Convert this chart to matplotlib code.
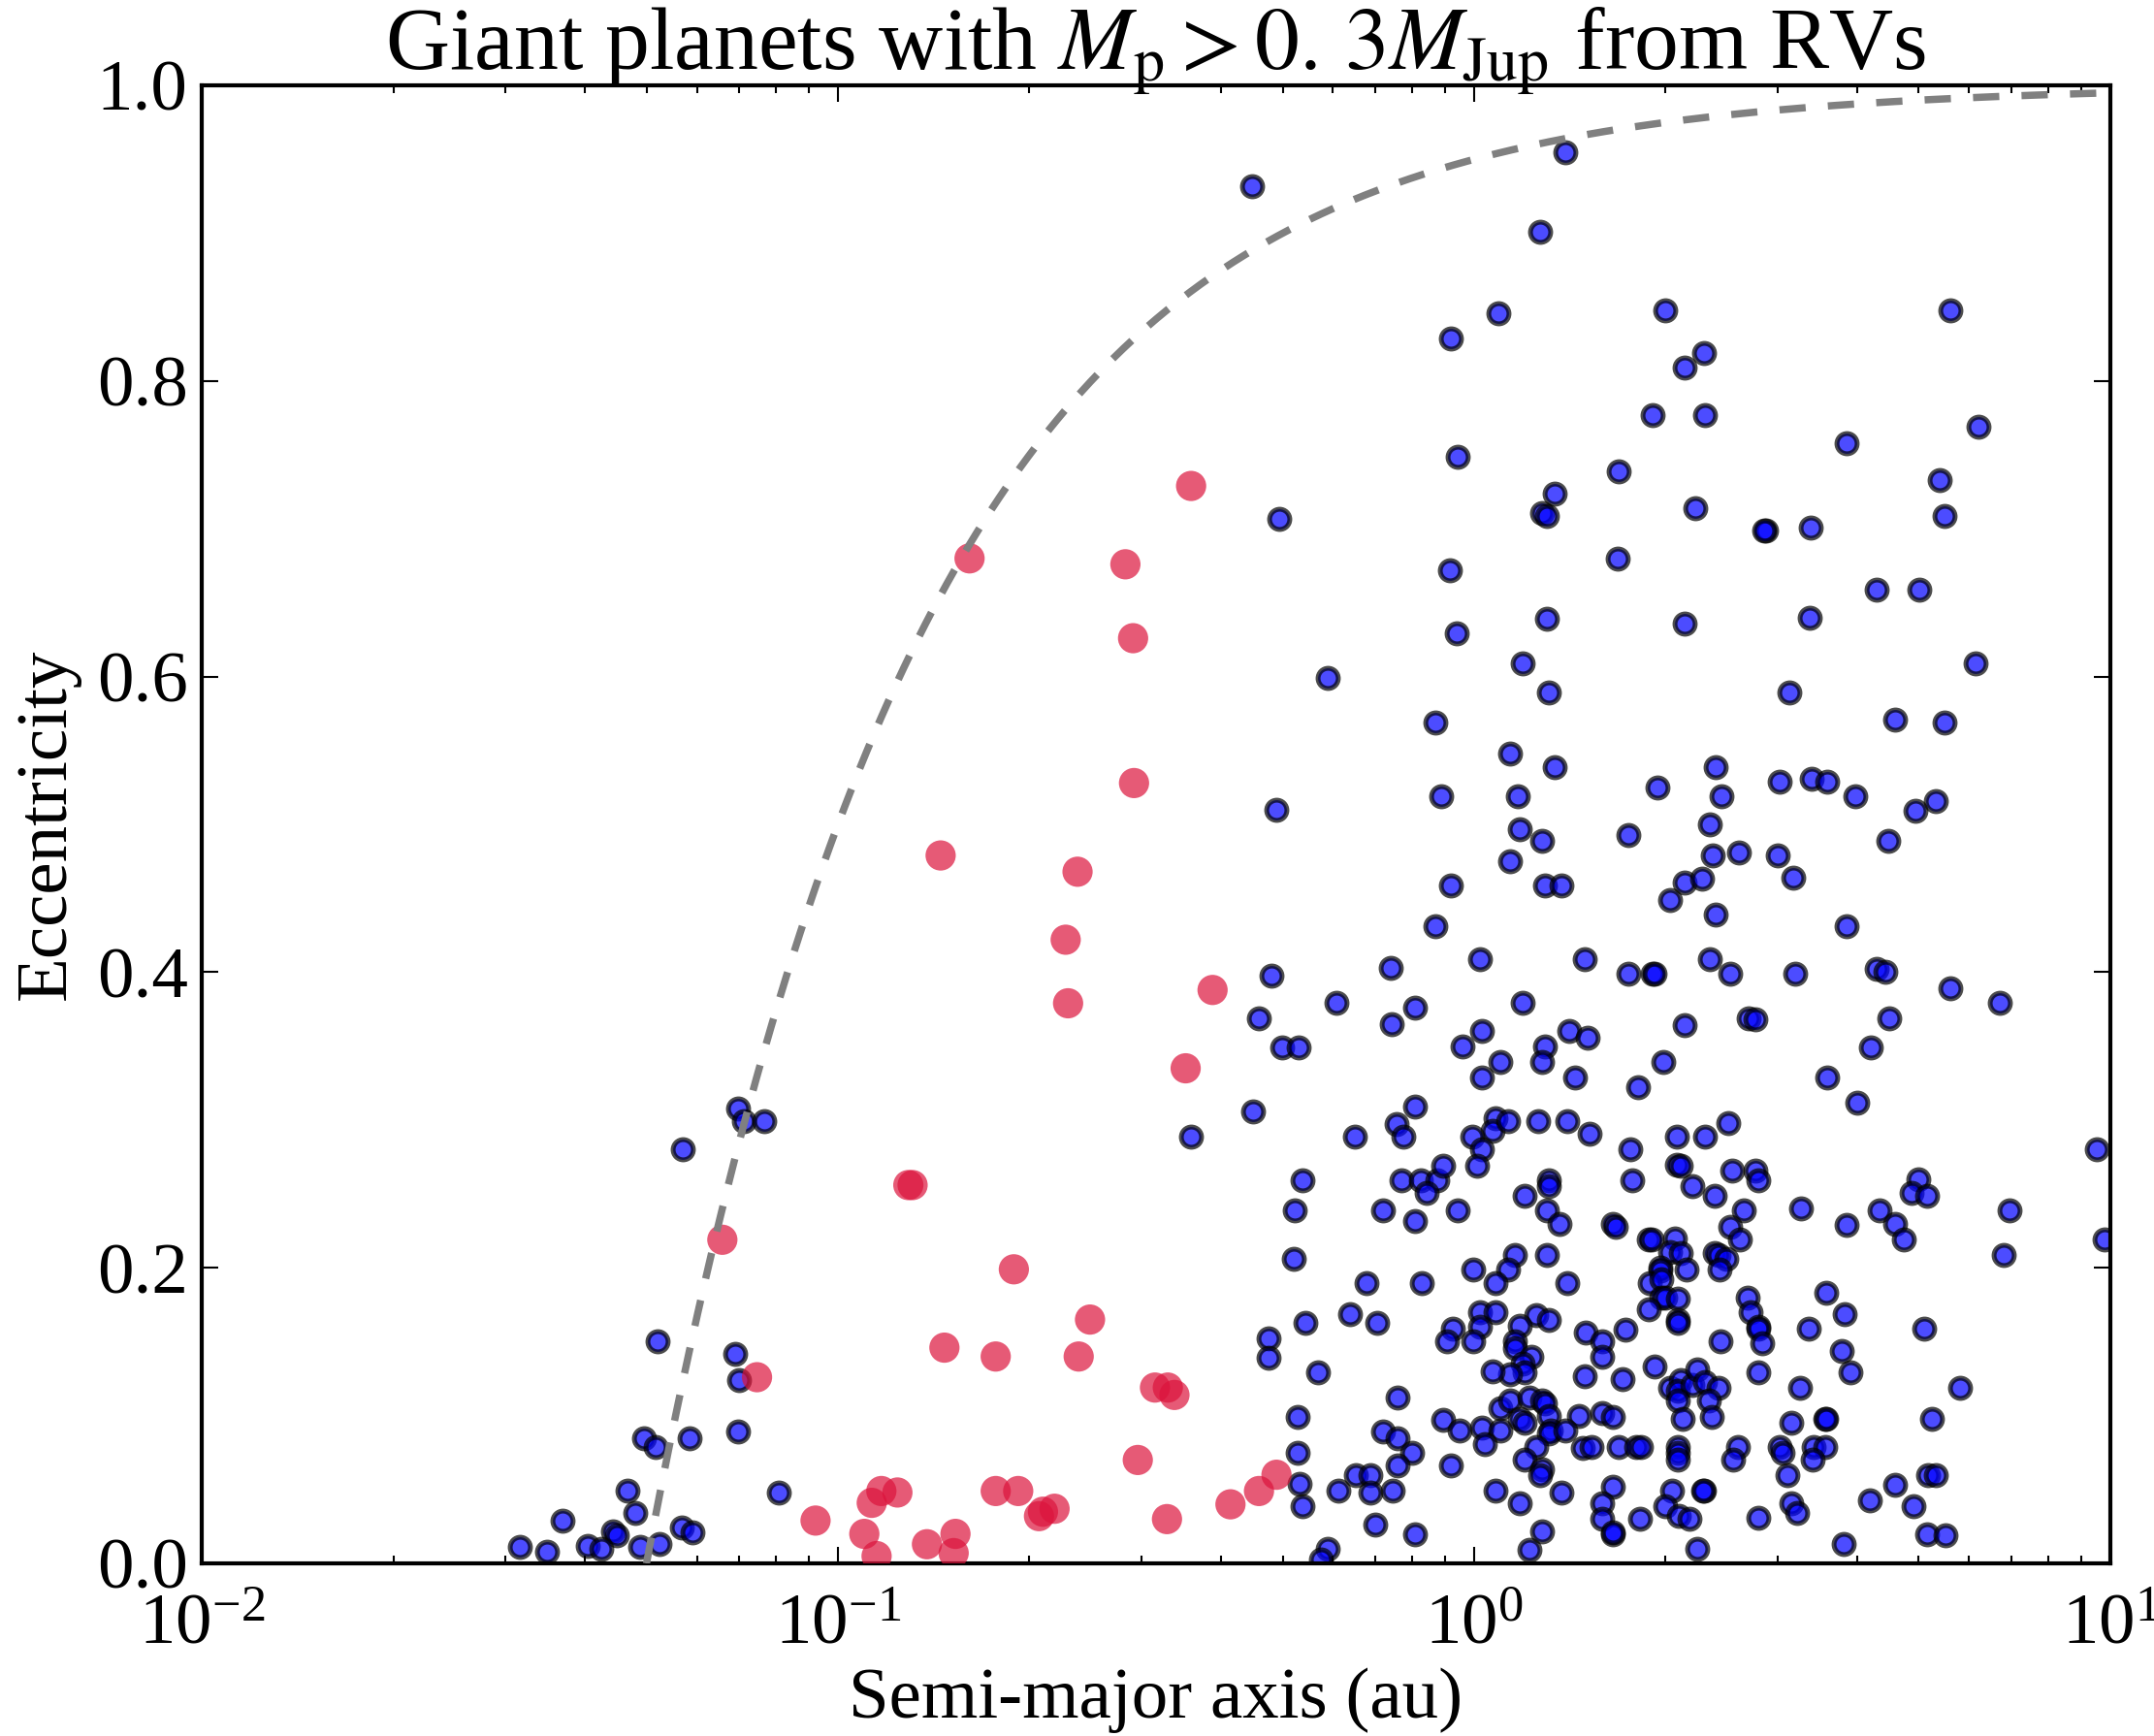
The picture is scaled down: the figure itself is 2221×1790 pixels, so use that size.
import numpy as np
import matplotlib
matplotlib.use("Agg")
import matplotlib.pyplot as plt

# values: semi-major axis (au) and eccentricity
# blue = planets beyond the tidal limit, red = warm/eccentric ones
blue_a = [0.0570, 0.0697, 0.0712, 0.0766, 0.0521, 0.0689, 0.0700, 0.0496, 0.0517, 0.0585,
          0.0697, 0.0467, 0.0808, 0.0480, 0.0369, 0.0443, 0.0449, 0.0568, 0.0591, 0.0316,
          0.0349, 0.0404, 0.0425, 0.0489, 0.0524,
          0.489, 0.888, 0.920, 0.869, 0.740, 0.480, 0.608, 0.808, 0.742, 0.459,
          0.499, 0.530, 0.449, 0.808, 0.359, 0.650, 0.755, 0.774, 0.537, 0.522,
          0.719, 0.808, 0.769, 0.825, 0.875, 0.894, 0.842, 0.521, 0.678, 0.828,
          0.638, 0.543, 0.704, 0.926, 0.907, 0.475, 0.475, 0.568, 0.758, 0.528,
          0.894, 0.719, 0.758, 0.799, 0.528, 0.758, 0.920, 0.652, 0.687, 0.532,
          0.612, 0.687, 0.745, 0.537, 0.700, 0.808, 0.589, 0.574,
          1.08, 1.07, 1.13, 1.26, 1.40, 1.52, 0.993, 1.03, 1.01, 1.76,
          2.08, 2.31, 2.51, 2.08, 2.11, 2.54, 2.77, 2.80, 2.20, 2.39,
          1.77, 1.31, 1.31, 1.20, 0.942, 1.30, 1.36, 1.65, 1.67, 2.65,
          2.53, 2.62, 1.88, 1.90, 2.07, 2.03, 2.11, 2.39, 2.42, 2.49,
          2.43, 1.96, 1.96, 2.16, 1.89, 1.97, 1.16, 1.30, 0.998, 1.13,
          1.08, 1.40, 1.97, 2.00, 2.09, 1.88, 2.09, 2.09, 2.69, 2.72,
          2.80, 2.80, 2.84, 1.02, 1.08, 1.25, 1.31, 1.18, 1.02, 0.998,
          1.16, 1.16, 1.23, 1.19, 1.20, 1.14, 1.07, 1.50, 1.59, 1.59,
          1.73, 2.44, 1.92, 1.49, 1.71, 2.03, 2.11, 2.09, 2.20, 2.24,
          2.31, 2.42, 2.09, 2.34, 2.13, 2.36, 2.80, 1.10, 1.14, 1.22,
          1.28, 1.29, 1.18, 1.20, 1.31, 1.46, 1.59, 1.65, 0.949, 1.03,
          1.10, 1.32, 1.31, 1.39, 1.04, 1.25, 1.48, 1.53, 1.69, 1.80,
          1.83, 2.09, 2.09, 2.09, 2.60, 2.55, 3.02, 3.05, 3.11, 1.20,
          1.28, 1.27, 1.08, 1.18, 1.37, 1.65, 1.59, 1.59, 1.65, 1.65,
          1.82, 2.05, 2.00, 2.10, 2.18, 2.30, 2.29, 2.80, 3.15, 3.22,
          1.28, 1.22, 2.24, 3.15,
          9.52, 4.99, 4.87, 5.15, 3.26, 3.85, 4.34, 4.59, 4.74, 6.94,
          6.80, 9.79, 3.58, 3.82, 3.36, 5.10, 3.78, 3.90, 3.25, 5.81,
          3.56, 3.58, 5.24, 3.42, 3.56, 3.40, 5.17, 5.32, 4.59, 4.19,
          4.90, 5.15, 5.51, 3.81,
          1.14, 1.34, 1.17, 1.18, 1.28, 1.14, 1.29, 1.37, 1.94, 1.75,
          2.40, 2.45, 2.35, 2.37, 2.61, 3.00, 3.02, 2.14, 2.28, 2.03,
          3.17, 2.40, 1.02, 1.49, 1.75, 1.91, 1.92, 2.35, 2.53, 3.20,
          1.19, 2.14, 2.70, 2.77, 1.03, 0.959, 1.41, 1.51, 1.29, 1.28,
          1.10, 1.03, 1.44, 1.98, 1.81,
          3.39, 3.59, 3.97, 5.32, 4.94, 4.48, 3.85, 4.29, 4.43, 5.61,
          6.70, 4.49, 4.20, 3.59, 4.00,
          1.39, 0.448, 1.27, 1.09, 2.00, 5.61, 0.920, 2.30, 2.14, 1.91,
          2.31, 6.21, 3.85, 0.942, 1.69, 1.34, 1.28, 1.30, 2.23, 2.88,
          2.86, 3.38, 5.39, 5.49, 0.494, 0.916, 1.68, 4.30, 5.01, 1.30,
          2.14, 3.37, 0.939, 1.19, 0.589, 6.14, 1.31, 3.13, 0.869, 4.59,
          5.49]
blue_e = [0.280, 0.308, 0.299, 0.299, 0.150, 0.142, 0.124, 0.085, 0.079, 0.085,
          0.089, 0.049, 0.048, 0.034, 0.029, 0.022, 0.019, 0.024, 0.021, 0.011,
          0.008, 0.012, 0.010, 0.011, 0.013,
          0.510, 0.519, 0.459, 0.431, 0.403, 0.398, 0.379, 0.376, 0.365, 0.369,
          0.349, 0.349, 0.306, 0.309, 0.289, 0.289, 0.297, 0.289, 0.259, 0.239,
          0.239, 0.232, 0.259, 0.259, 0.259, 0.269, 0.251, 0.206, 0.190, 0.190,
          0.169, 0.163, 0.163, 0.159, 0.150, 0.152, 0.139, 0.129, 0.112, 0.099,
          0.097, 0.089, 0.085, 0.075, 0.075, 0.066, 0.066, 0.060, 0.060, 0.054,
          0.049, 0.048, 0.049, 0.039, 0.026, 0.020, 0.010, 0.003,
          0.301, 0.293, 0.299, 0.299, 0.299, 0.291, 0.289, 0.280, 0.269, 0.280,
          0.289, 0.289, 0.298, 0.270, 0.269, 0.266, 0.266, 0.259, 0.255, 0.249,
          0.259, 0.259, 0.255, 0.249, 0.239, 0.239, 0.230, 0.230, 0.228, 0.239,
          0.228, 0.219, 0.219, 0.219, 0.220, 0.211, 0.210, 0.210, 0.209, 0.206,
          0.199, 0.200, 0.198, 0.199, 0.190, 0.192, 0.209, 0.209, 0.199, 0.199,
          0.190, 0.190, 0.180, 0.180, 0.179, 0.172, 0.165, 0.163, 0.180, 0.170,
          0.160, 0.159, 0.149, 0.170, 0.170, 0.168, 0.165, 0.161, 0.160, 0.150,
          0.150, 0.146, 0.140, 0.135, 0.129, 0.128, 0.130, 0.156, 0.150, 0.140,
          0.158, 0.150, 0.133, 0.127, 0.125, 0.119, 0.124, 0.117, 0.121, 0.131,
          0.123, 0.119, 0.110, 0.110, 0.098, 0.099, 0.129, 0.105, 0.110, 0.112,
          0.110, 0.108, 0.098, 0.095, 0.100, 0.100, 0.102, 0.099, 0.090, 0.092,
          0.090, 0.090, 0.088, 0.090, 0.081, 0.079, 0.078, 0.079, 0.079, 0.079,
          0.079, 0.079, 0.075, 0.070, 0.079, 0.070, 0.079, 0.075, 0.060, 0.070,
          0.064, 0.060, 0.049, 0.041, 0.048, 0.052, 0.041, 0.030, 0.020, 0.021,
          0.030, 0.049, 0.039, 0.032, 0.030, 0.049, 0.049, 0.031, 0.041, 0.034,
          0.022, 0.009, 0.010, 0.095,
          0.280, 0.260, 0.251, 0.249, 0.240, 0.229, 0.239, 0.230, 0.219, 0.239,
          0.209, 0.219, 0.183, 0.169, 0.159, 0.159, 0.144, 0.129, 0.119, 0.119,
          0.098, 0.098, 0.098, 0.079, 0.079, 0.070, 0.060, 0.060, 0.053, 0.043,
          0.039, 0.020, 0.019, 0.013,
          0.548, 0.539, 0.519, 0.497, 0.489, 0.475, 0.459, 0.459, 0.525, 0.493,
          0.539, 0.519, 0.500, 0.479, 0.481, 0.479, 0.529, 0.461, 0.463, 0.449,
          0.464, 0.439, 0.409, 0.409, 0.399, 0.399, 0.399, 0.409, 0.399, 0.399,
          0.379, 0.364, 0.369, 0.368, 0.360, 0.350, 0.360, 0.356, 0.350, 0.339,
          0.339, 0.329, 0.329, 0.339, 0.322,
          0.531, 0.529, 0.519, 0.516, 0.509, 0.489, 0.431, 0.402, 0.400, 0.389,
          0.379, 0.369, 0.349, 0.329, 0.312,
          0.955, 0.932, 0.901, 0.846, 0.848, 0.848, 0.829, 0.819, 0.809, 0.777,
          0.777, 0.769, 0.758, 0.749, 0.739, 0.724, 0.711, 0.709, 0.714, 0.699,
          0.699, 0.701, 0.733, 0.709, 0.707, 0.672, 0.680, 0.659, 0.659, 0.639,
          0.636, 0.640, 0.629, 0.609, 0.599, 0.609, 0.589, 0.589, 0.569, 0.571,
          0.569]

red_a = [0.129, 0.131, 0.0658, 0.147, 0.0746, 0.117, 0.124, 0.113, 0.0922, 0.110,
         0.115, 0.138, 0.153, 0.152,
         0.189, 0.249, 0.177, 0.239, 0.177, 0.192, 0.207, 0.210, 0.219,
         0.296, 0.315, 0.330, 0.338, 0.329, 0.414, 0.459, 0.489,
         0.359, 0.161, 0.283, 0.291, 0.292, 0.145, 0.238, 0.228, 0.230, 0.388,
         0.352]
red_e = [0.256, 0.256, 0.219, 0.146, 0.126, 0.049, 0.048, 0.041, 0.029, 0.020,
         0.005, 0.013, 0.020, 0.007,
         0.199, 0.165, 0.140, 0.140, 0.049, 0.049, 0.032, 0.035, 0.037,
         0.070, 0.119, 0.119, 0.114, 0.030, 0.040, 0.049, 0.060,
         0.729, 0.680, 0.676, 0.626, 0.528, 0.479, 0.468, 0.422, 0.379, 0.388,
         0.335]

# pericentre limit a(1-e) = 0.05 au
q_peri = 0.05

plt.rcParams['font.family'] = 'serif'
plt.rcParams['font.serif'] = ['Liberation Serif', 'DejaVu Serif']
plt.rcParams['mathtext.fontset'] = 'stix'
plt.rcParams['axes.unicode_minus'] = False
plt.rcParams['lines.scale_dashes'] = False

fig = plt.figure(figsize=(2221/300, 1790/300), dpi=300)
ax = fig.add_axes([0.0937, 0.0994, 0.9797 - 0.0937, 0.9508 - 0.0994])

ax.scatter(blue_a, blue_e, s=25, c='blue', edgecolors='k', linewidths=1.2,
           alpha=0.7, zorder=2)
ax.scatter(red_a, red_e, s=56, c='crimson', edgecolors='none', alpha=0.7,
           zorder=3)

a_line = np.logspace(np.log10(q_peri), 1, 400)
ax.plot(a_line, 1 - q_peri / a_line, color='gray', lw=1.8,
        dashes=(6.5, 5.5), zorder=4)

ax.set_xscale('log')
ax.set_xlim(1e-2, 1e1)
ax.set_ylim(0, 1)
ax.set_yticks([0.0, 0.2, 0.4, 0.6, 0.8, 1.0])

for s in ax.spines.values():
    s.set_linewidth(1.0)
ax.tick_params(which='both', direction='in', top=True, right=True,
               width=0.5, labelsize=18)
ax.tick_params(axis='x', which='both', pad=7.5)
ax.tick_params(axis='y', which='both', pad=3.5)
ax.tick_params(which='major', length=4)
ax.tick_params(which='minor', length=2)

ax.set_xlabel('Semi-major axis (au)', fontsize=18, labelpad=2)
ax.set_ylabel('Eccentricity', fontsize=18)
ax.set_title(r'Giant planets with $M_{\rm p} > 0.\,3M_{\rm Jup}$ from RVs',
             fontsize=22, y=1.011, pad=0)

fig.savefig('out.png', dpi=300)
